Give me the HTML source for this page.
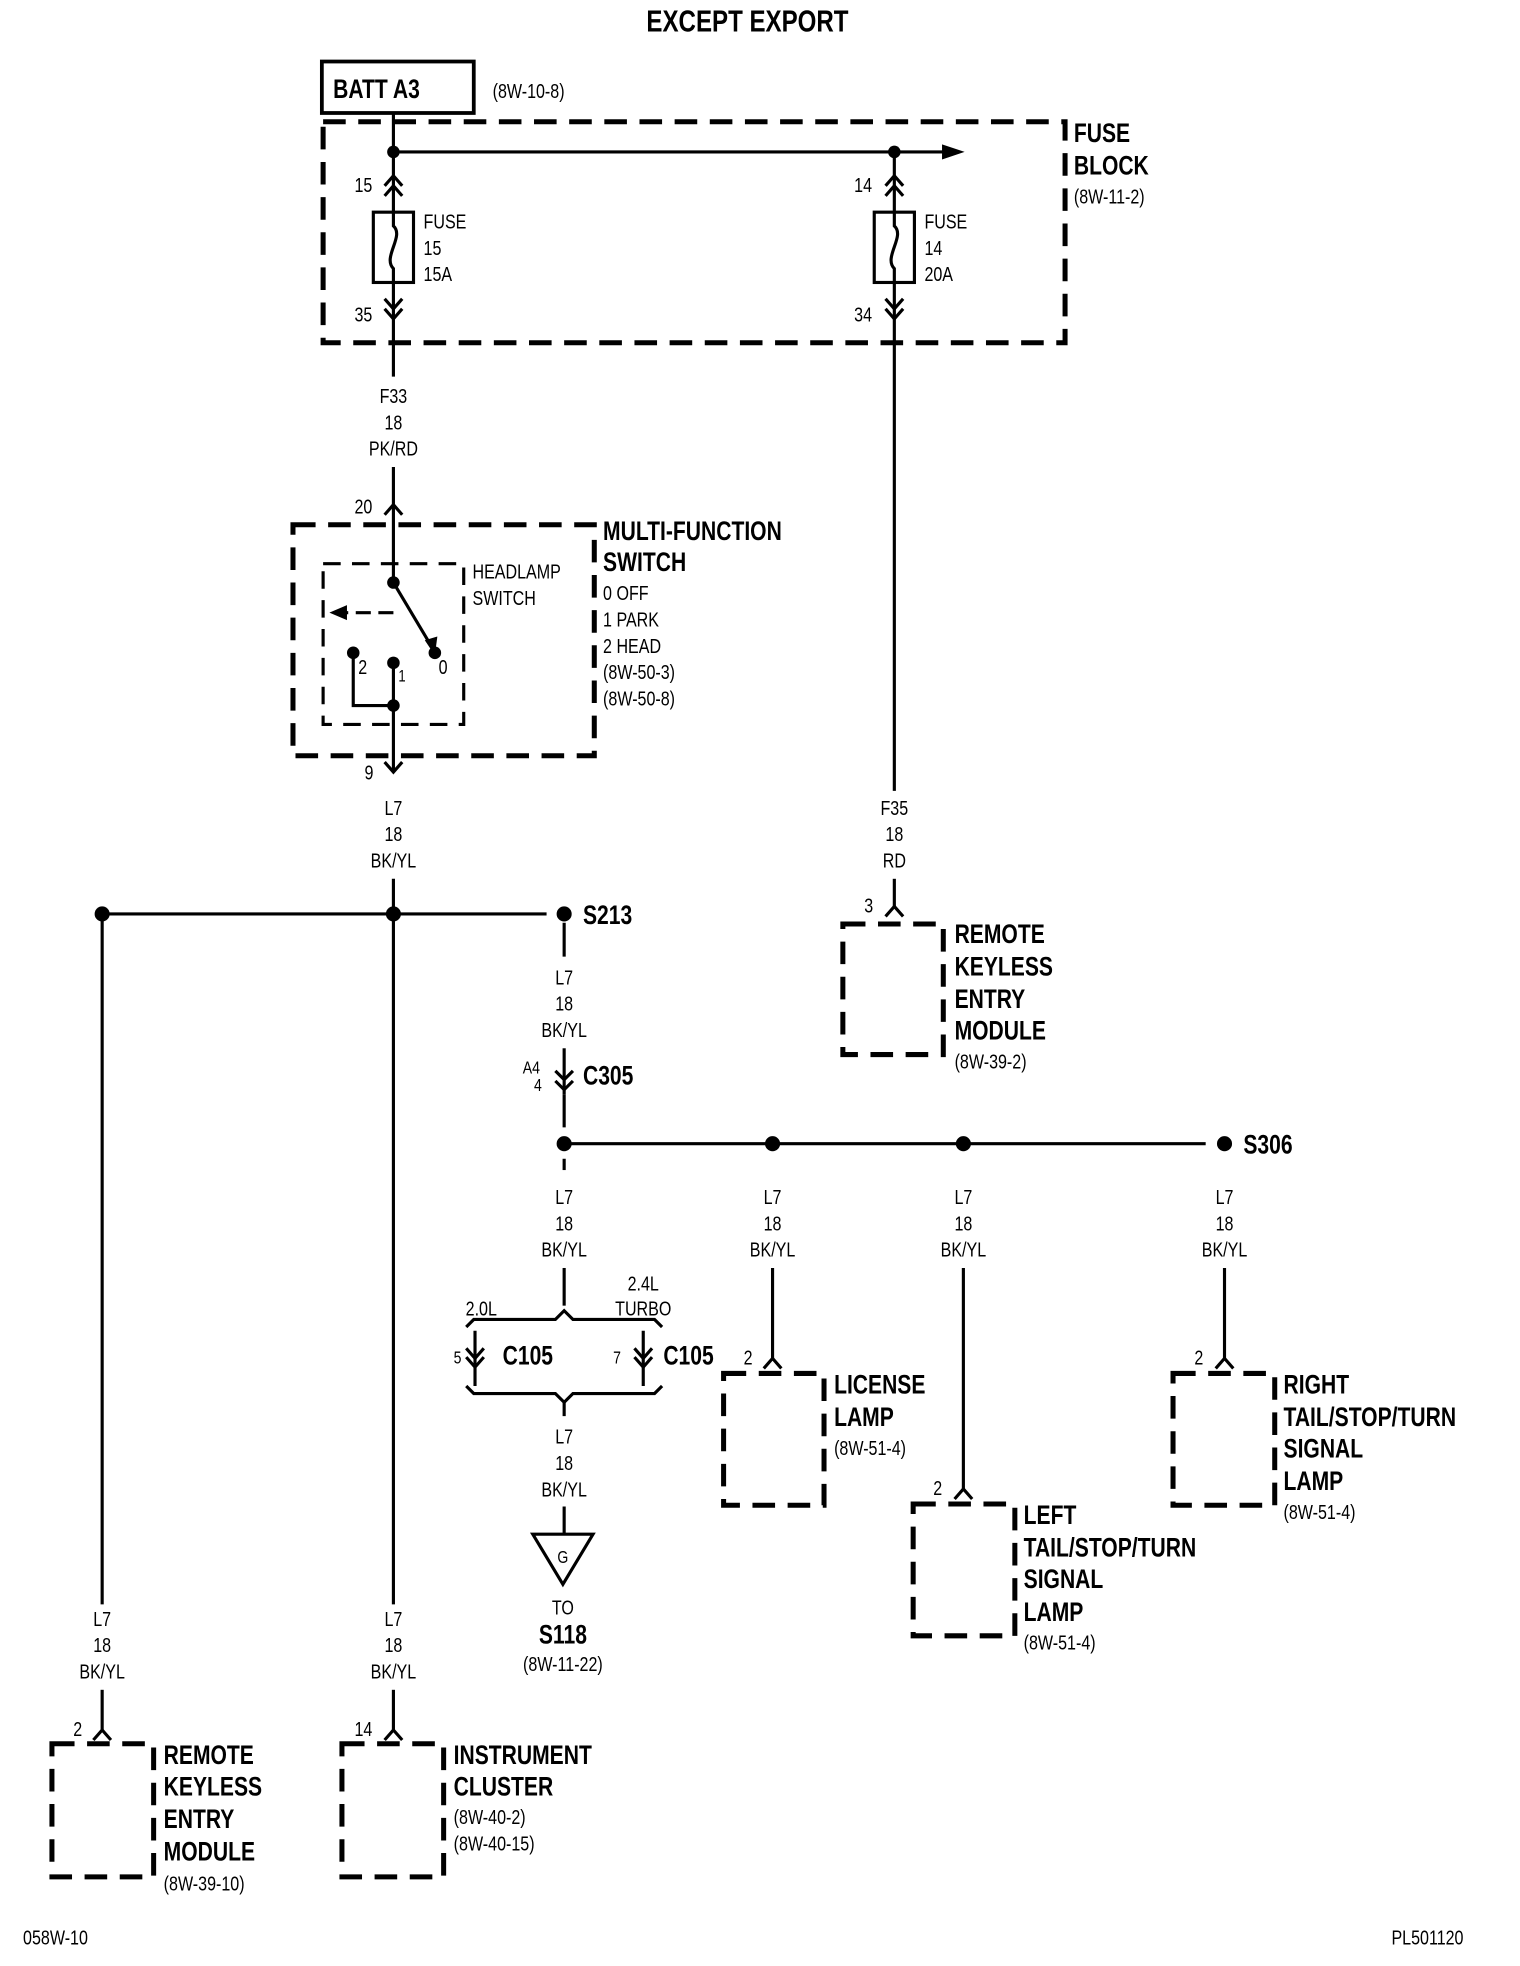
<!DOCTYPE html>
<html><head><meta charset="utf-8"><style>
html,body{margin:0;padding:0;background:#fff}
svg{display:block}
text{font-family:"Liberation Sans Narrow","Liberation Sans",sans-serif;fill:#000;transform-box:fill-box;transform-origin:0% 50%;transform:scaleX(.8)}
.b{font-weight:bold;font-size:21px}
.r{font-size:16px}
.c{text-anchor:middle;transform-origin:50% 50%}
</style></head><body>
<svg width="1520" height="1966" viewBox="0 0 1210 1566" xmlns="http://www.w3.org/2000/svg">
<g stroke="#000" fill="none" stroke-width="2.5">
<rect x="256" y="49" width="121" height="41" stroke-width="3"/>
<rect x="257" y="97" width="591" height="176" stroke-width="4" stroke-dasharray="18,10"/>
<line x1="313" y1="90" x2="313" y2="140"/>
<line x1="313" y1="121" x2="755" y2="121"/>
<line x1="712" y1="121" x2="712" y2="140"/>
<path d="M306,148 L313,140 L320,148 M306,156 L313,148 L320,156"/>
<line x1="313" y1="140" x2="313" y2="169"/>
<rect x="297" y="169" width="32" height="56"/>
<path d="M313,169 L313,180 C322,188 304,205 313,214 L313,225"/>
<line x1="313" y1="225" x2="313" y2="300"/>
<path d="M306,238 L313,246 L320,238 M306,246 L313,254 L320,246"/>
<path d="M705,148 L712,140 L719,148 M705,156 L712,148 L719,156"/>
<line x1="712" y1="140" x2="712" y2="169"/>
<rect x="696" y="169" width="32" height="56"/>
<path d="M712,169 L712,180 C721,188 703,205 712,214 L712,225"/>
<line x1="712" y1="225" x2="712" y2="630"/>
<path d="M705,238 L712,246 L719,238 M705,246 L712,254 L719,246"/>
<line x1="313" y1="372" x2="313" y2="464"/>
<path d="M306,410 L313,402 L320,410"/>
<rect x="233" y="418" width="240" height="184" stroke-width="4" stroke-dasharray="18,10"/>
<rect x="257" y="449" width="112" height="128" stroke-width="2.5" stroke-dasharray="14,9"/>
<line x1="313" y1="464" x2="344" y2="516"/>
<line x1="313" y1="488" x2="272" y2="488" stroke-dasharray="12,6"/>
<path d="M281,520 L281,562 L313,562"/>
<line x1="313" y1="528" x2="313" y2="615"/>
<path d="M306,607 L313,615 L320,607"/>
<line x1="313" y1="700" x2="313" y2="1278"/>
<line x1="81" y1="728" x2="435" y2="728"/>
<line x1="81" y1="728" x2="81" y2="1278"/>
<line x1="449" y1="735" x2="449" y2="762"/>
<line x1="81" y1="1346" x2="81" y2="1378"/>
<path d="M74,1386 L81,1378 L88,1386"/>
<rect x="41" y="1389" width="81" height="106" stroke-width="4" stroke-dasharray="18,10"/>
<line x1="313" y1="1346" x2="313" y2="1378"/>
<path d="M306,1386 L313,1378 L320,1386"/>
<rect x="272" y="1389" width="81" height="106" stroke-width="4" stroke-dasharray="18,10"/>
<line x1="712" y1="700" x2="712" y2="722"/>
<path d="M705,730 L712,722 L719,730"/>
<rect x="671" y="736" width="80" height="104" stroke-width="4" stroke-dasharray="18,10"/>
<line x1="449" y1="835" x2="449" y2="872"/>
<path d="M442,853 L449,860 L456,853 M442,861 L449,868 L456,861"/>
<line x1="449" y1="872" x2="449" y2="898"/>
<line x1="449" y1="911" x2="960" y2="911"/>
<line x1="449" y1="923" x2="449" y2="932"/>
<line x1="449" y1="1010" x2="449" y2="1040"/>
<path d="M371,1057 L377,1051 L442,1051 L449,1044 L456,1051 L521,1051 L527,1057"/>
<line x1="378" y1="1060" x2="378" y2="1104"/>
<path d="M371,1074 L378,1082 L385,1074 M371,1081 L378,1089 L385,1081"/>
<line x1="512" y1="1060" x2="512" y2="1104"/>
<path d="M505,1074 L512,1082 L519,1074 M505,1081 L512,1089 L519,1081"/>
<path d="M371,1104 L377,1110 L442,1110 L449,1117 L456,1110 L521,1110 L527,1104"/>
<line x1="449" y1="1117" x2="449" y2="1128"/>
<line x1="449" y1="1200" x2="449" y2="1222"/>
<path d="M424,1222 L472,1222 L448,1262 Z"/>
<line x1="615" y1="1010" x2="615" y2="1082"/>
<path d="M608,1090 L615,1082 L622,1090"/>
<rect x="576" y="1094" width="80" height="105" stroke-width="4" stroke-dasharray="18,10"/>
<line x1="767" y1="1010" x2="767" y2="1186"/>
<path d="M760,1194 L767,1186 L774,1194"/>
<rect x="727" y="1198" width="81" height="105" stroke-width="4" stroke-dasharray="18,10"/>
<line x1="975" y1="1010" x2="975" y2="1082"/>
<path d="M968,1090 L975,1082 L982,1090"/>
<rect x="934" y="1094" width="81" height="105" stroke-width="4" stroke-dasharray="18,10"/>
</g>
<g fill="#000">
<path d="M750,115 L768,121 L750,127 Z"/>
<path d="M262,488 L276,482 L276,494 Z"/>
<path d="M346,522 L338,510 L348,507 Z"/>
<circle cx="313" cy="121" r="5"/><circle cx="712" cy="121" r="5"/>
<circle cx="313" cy="464" r="5"/><circle cx="346" cy="520" r="5"/>
<circle cx="281" cy="520" r="5"/><circle cx="313" cy="528" r="5"/><circle cx="313" cy="562" r="5"/>
<circle cx="81" cy="728" r="6"/><circle cx="313" cy="728" r="6"/><circle cx="449" cy="728" r="6"/>
<circle cx="449" cy="911" r="6"/><circle cx="615" cy="911" r="6"/><circle cx="767" cy="911" r="6"/><circle cx="975" cy="911" r="6"/>
</g>
<text x="595" y="25" class="b c" style="font-size:24px">EXCEPT EXPORT</text>
<text x="265" y="78" class="b">BATT A3</text>
<text x="392" y="78" class="r">(8W-10-8)</text>
<text x="855" y="113" class="b">FUSE</text><text x="855" y="139" class="b">BLOCK</text><text x="855" y="162" class="r">(8W-11-2)</text>
<text x="282" y="153" class="r">15</text><text x="282" y="256" class="r">35</text>
<text x="680" y="153" class="r">14</text><text x="680" y="256" class="r">34</text>
<text x="337" y="182" class="r">FUSE</text><text x="337" y="203" class="r">15</text><text x="337" y="224" class="r">15A</text>
<text x="736" y="182" class="r">FUSE</text><text x="736" y="203" class="r">14</text><text x="736" y="224" class="r">20A</text>
<text x="313" y="321" class="r c">F33</text><text x="313" y="342" class="r c">18</text><text x="313" y="363" class="r c">PK/RD</text>
<text x="282" y="409" class="r">20</text>
<text x="480" y="430" class="b">MULTI-FUNCTION</text><text x="480" y="455" class="b">SWITCH</text>
<text x="480" y="478" class="r">0 OFF</text><text x="480" y="499" class="r">1 PARK</text><text x="480" y="520" class="r">2 HEAD</text>
<text x="480" y="541" class="r">(8W-50-3)</text><text x="480" y="562" class="r">(8W-50-8)</text>
<text x="376" y="461" class="r">HEADLAMP</text><text x="376" y="482" class="r">SWITCH</text>
<text x="285" y="537" class="r">2</text><text x="317" y="543" class="r" style="font-size:13px">1</text><text x="349" y="537" class="r">0</text>
<text x="290" y="621" class="r">9</text>
<text x="313" y="649" class="r c">L7</text><text x="313" y="670" class="r c">18</text><text x="313" y="691" class="r c">BK/YL</text>
<text x="712" y="649" class="r c">F35</text><text x="712" y="670" class="r c">18</text><text x="712" y="691" class="r c">RD</text>
<text x="464" y="736" class="b">S213</text>
<text x="688" y="727" class="r">3</text>
<text x="760" y="751" class="b">REMOTE</text><text x="760" y="777" class="b">KEYLESS</text><text x="760" y="803" class="b">ENTRY</text><text x="760" y="828" class="b">MODULE</text><text x="760" y="851" class="r">(8W-39-2)</text>
<text x="449" y="784" class="r c">L7</text><text x="449" y="805" class="r c">18</text><text x="449" y="826" class="r c">BK/YL</text>
<text x="416" y="855" class="r" style="font-size:14px">A4</text><text x="425" y="869" class="r" style="font-size:14px">4</text>
<text x="464" y="864" class="b">C305</text>
<text x="990" y="919" class="b">S306</text>
<text x="449" y="959" class="r c">L7</text><text x="449" y="980" class="r c">18</text><text x="449" y="1001" class="r c">BK/YL</text>
<text x="615" y="959" class="r c">L7</text><text x="615" y="980" class="r c">18</text><text x="615" y="1001" class="r c">BK/YL</text>
<text x="767" y="959" class="r c">L7</text><text x="767" y="980" class="r c">18</text><text x="767" y="1001" class="r c">BK/YL</text>
<text x="975" y="959" class="r c">L7</text><text x="975" y="980" class="r c">18</text><text x="975" y="1001" class="r c">BK/YL</text>
<text x="383" y="1048" class="r c">2.0L</text>
<text x="512" y="1028" class="r c">2.4L</text><text x="512" y="1048" class="r c">TURBO</text>
<text x="361" y="1086" class="r" style="font-size:14px">5</text><text x="400" y="1087" class="b">C105</text>
<text x="488" y="1086" class="r" style="font-size:14px">7</text><text x="528" y="1087" class="b">C105</text>
<text x="449" y="1150" class="r c">L7</text><text x="449" y="1171" class="r c">18</text><text x="449" y="1192" class="r c">BK/YL</text>
<text x="448" y="1245" class="r c" style="font-size:14px">G</text>
<text x="448" y="1286" class="r c">TO</text><text x="448" y="1309" class="b c">S118</text><text x="448" y="1331" class="r c">(8W-11-22)</text>
<text x="592" y="1087" class="r">2</text>
<text x="664" y="1110" class="b">LICENSE</text><text x="664" y="1136" class="b">LAMP</text><text x="664" y="1159" class="r">(8W-51-4)</text>
<text x="743" y="1191" class="r">2</text>
<text x="815" y="1214" class="b">LEFT</text><text x="815" y="1240" class="b">TAIL/STOP/TURN</text><text x="815" y="1265" class="b">SIGNAL</text><text x="815" y="1291" class="b">LAMP</text><text x="815" y="1314" class="r">(8W-51-4)</text>
<text x="951" y="1087" class="r">2</text>
<text x="1022" y="1110" class="b">RIGHT</text><text x="1022" y="1136" class="b">TAIL/STOP/TURN</text><text x="1022" y="1161" class="b">SIGNAL</text><text x="1022" y="1187" class="b">LAMP</text><text x="1022" y="1210" class="r">(8W-51-4)</text>
<text x="81" y="1295" class="r c">L7</text><text x="81" y="1316" class="r c">18</text><text x="81" y="1337" class="r c">BK/YL</text>
<text x="313" y="1295" class="r c">L7</text><text x="313" y="1316" class="r c">18</text><text x="313" y="1337" class="r c">BK/YL</text>
<text x="58" y="1383" class="r">2</text><text x="282" y="1383" class="r">14</text>
<text x="130" y="1405" class="b">REMOTE</text><text x="130" y="1430" class="b">KEYLESS</text><text x="130" y="1456" class="b">ENTRY</text><text x="130" y="1482" class="b">MODULE</text><text x="130" y="1506" class="r">(8W-39-10)</text>
<text x="361" y="1405" class="b">INSTRUMENT</text><text x="361" y="1430" class="b">CLUSTER</text><text x="361" y="1453" class="r">(8W-40-2)</text><text x="361" y="1474" class="r">(8W-40-15)</text>
<text x="18" y="1549" class="r">058W-10</text>
<text x="1108" y="1549" class="r">PL501120</text>
</svg>
</body></html>
